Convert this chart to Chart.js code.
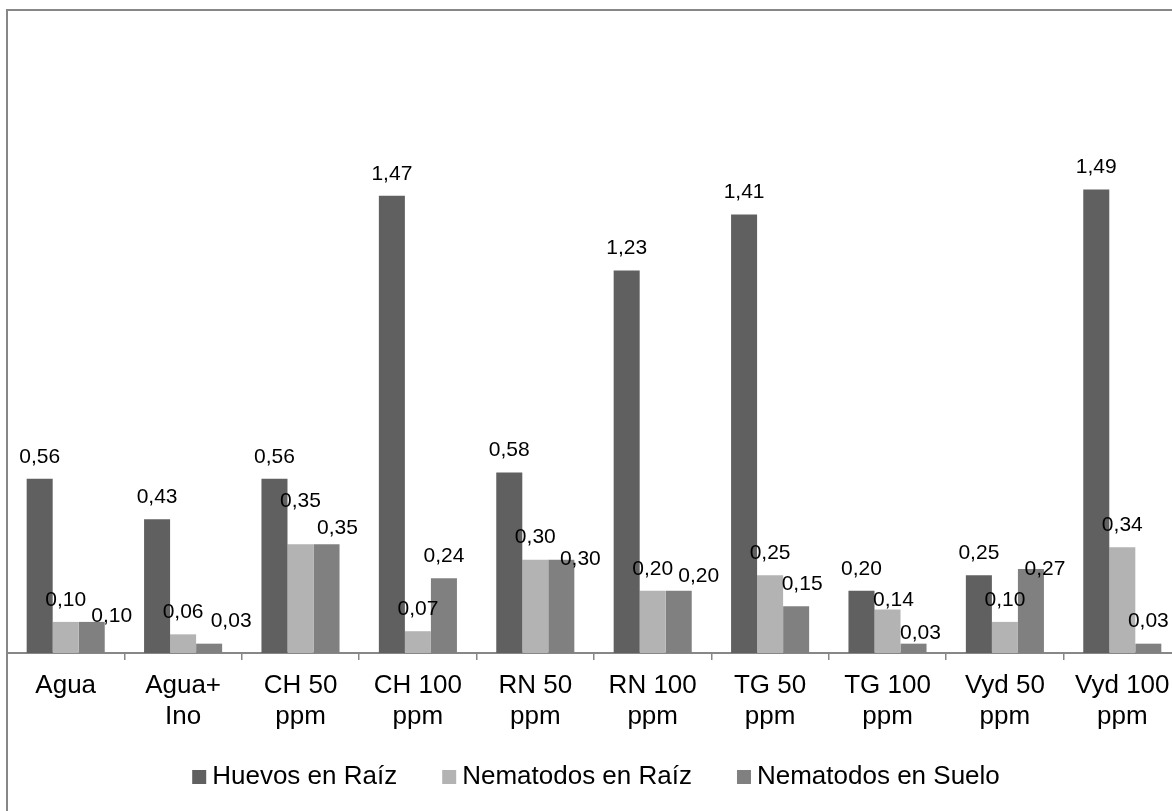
<!DOCTYPE html>
<html>
<head>
<meta charset="utf-8">
<script src="https://cdn.jsdelivr.net/npm/chart.js@4/dist/chart.umd.min.js"></script>
<style>
  html, body { margin: 0; padding: 0; background: #ffffff; overflow: hidden; width: 1172px; height: 811px; }
  #frame { position: absolute; left: 6px; top: 9px; width: 1300px; height: 1000px; border: 2px solid #878787; pointer-events: none; }
  #c { position: absolute; left: 0; top: 0; }
</style>
</head>
<body>
<canvas id="c" width="1181" height="811"></canvas>
<div id="frame"></div>
<script>
// Treatments (x-axis categories)
const categories = [
  ['Agua'], ['Agua+', 'Ino'], ['CH 50', 'ppm'], ['CH 100', 'ppm'], ['RN 50', 'ppm'],
  ['RN 100', 'ppm'], ['TG 50', 'ppm'], ['TG 100', 'ppm'], ['Vyd 50', 'ppm'], ['Vyd 100', 'ppm']
];

// Series values
const huevosRaiz     = [0.56, 0.43, 0.56, 1.47, 0.58, 1.23, 1.41, 0.20, 0.25, 1.49];
const nematodosRaiz  = [0.10, 0.06, 0.35, 0.07, 0.30, 0.20, 0.25, 0.14, 0.10, 0.34];
const nematodosSuelo = [0.10, 0.03, 0.35, 0.24, 0.30, 0.20, 0.15, 0.03, 0.27, 0.03];

const seriesNames = ['Huevos en Raíz', 'Nematodos en Raíz', 'Nematodos en Suelo'];

const FONT = '"Liberation Sans", Arial, sans-serif';

// Value labels above each bar, with small nudges where neighbouring labels collide
const valueLabels = {
  id: 'valueLabels',
  afterDatasetsDraw(chart, args, opts) {
    const ctx = chart.ctx;
    ctx.save();
    ctx.font = opts.size + 'px ' + FONT;
    ctx.fillStyle = '#000000';
    ctx.textAlign = 'center';
    ctx.textBaseline = 'middle';
    chart.data.datasets.forEach((ds, di) => {
      const meta = chart.getDatasetMeta(di);
      const nudges = (opts.nudges && opts.nudges[di]) || {};
      meta.data.forEach((bar, i) => {
        const n = nudges[i] || [0, 0];
        const txt = ds.data[i].toFixed(2).replace('.', ',');
        ctx.fillText(txt, bar.x + n[0], bar.y - opts.gap + n[1]);
      });
    });
    ctx.restore();
  }
};

// Legend row drawn beneath the axis labels
const bottomLegend = {
  id: 'bottomLegend',
  afterDraw(chart, args, opts) {
    const ctx = chart.ctx;
    ctx.save();
    ctx.font = opts.size + 'px ' + FONT;
    ctx.textBaseline = 'middle';
    ctx.textAlign = 'left';
    const items = chart.data.datasets.map(ds => ({
      label: ds.label, color: ds.backgroundColor, w: ctx.measureText(ds.label).width
    }));
    const total = items.reduce((s, it) => s + opts.box + opts.textGap + it.w, 0) + opts.itemGap * (items.length - 1);
    let x = opts.centerX - total / 2;
    const y = opts.y;
    items.forEach(it => {
      ctx.fillStyle = it.color;
      ctx.fillRect(x, y - opts.box / 2, opts.box, opts.box);
      x += opts.box + opts.textGap;
      ctx.fillStyle = '#000000';
      ctx.fillText(it.label, x, y);
      x += it.w + opts.itemGap;
    });
    ctx.restore();
  }
};

new Chart(document.getElementById('c'), {
  type: 'bar',
  data: {
    labels: categories,
    datasets: [
      { label: seriesNames[0], data: huevosRaiz,     backgroundColor: '#606060' },
      { label: seriesNames[1], data: nematodosRaiz,  backgroundColor: '#b3b3b3' },
      { label: seriesNames[2], data: nematodosSuelo, backgroundColor: '#808080' }
    ]
  },
  options: {
    responsive: false,
    animation: false,
    devicePixelRatio: 1,
    layout: { padding: { left: 7, right: 0, top: 31, bottom: 0 } },
    datasets: { bar: { barPercentage: 1.0, categoryPercentage: 0.665 } },
    scales: {
      y: { display: false, min: 0, max: 2 },
      x: {
        afterFit(scale) { scale.height = 158; },
        border: { display: true, color: '#878787', width: 2 },
        grid: { display: true, drawOnChartArea: false, drawTicks: true, tickLength: 7, color: '#878787', lineWidth: 1.5, offset: true },
        ticks: {
          autoSkip: false, maxRotation: 0, minRotation: 0, padding: 10,
          color: '#000000',
          font: { family: FONT, size: 26, lineHeight: 1.2 }
        }
      }
    },
    plugins: {
      legend: { display: false },
      tooltip: { enabled: false },
      valueLabels: {
        size: 21,
        gap: 22,
        nudges: {
          1: { 2: [0, -21], 7: [6, 13] },
          2: { 0: [20, 16], 1: [22, 0], 2: [11, 6], 4: [19, 22], 5: [20, 7], 6: [6, 0], 7: [7, 12], 8: [14, 22] }
        }
      },
      bottomLegend: { size: 26, box: 14, textGap: 6, itemGap: 45, centerX: 596, y: 777 }
    }
  },
  plugins: [valueLabels, bottomLegend]
});
</script>
</body>
</html>
